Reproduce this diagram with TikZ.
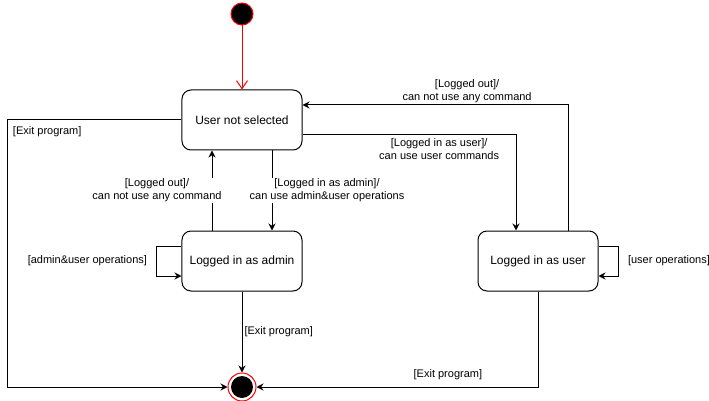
\documentclass[tikz,border=0pt]{standalone}
\usepackage{fontspec}
\setmainfont{Liberation Sans}
\usetikzlibrary{positioning, arrows.meta}

\begin{document}
\begin{tikzpicture}[->,>={Stealth[length=7pt,width=7pt]},line width=1pt,
    statebox/.style={draw,rounded corners=9pt,minimum width=120pt,minimum height=60pt,inner sep=0pt,font=\fontsize{12}{14}\selectfont},
    startdot/.style={circle,draw=red,fill=black,minimum size=22pt,inner sep=0pt},
    enddot/.style={circle,draw=red,fill=white,minimum size=28pt,inner sep=0pt,
      path picture={\fill[black] (path picture bounding box.center) circle (11pt);}},
    lbl/.style={font=\fontsize{11}{13}\selectfont,fill=white,inner sep=1pt,align=center}]
  \useasboundingbox (-242pt,-281pt) rectangle (467pt,120pt);

  \node[statebox] (uns) at (0,0) {User not selected};
  \node[statebox] (admin) [below=80pt of uns] {Logged in as admin};
  \node[statebox] (user) [right=175pt of admin] {Logged in as user};
  \node[startdot] (start) [above=64pt of uns] {};
  \node[enddot] (end) [below=81pt of admin] {};

  \draw[red,-{Straight Barb[length=8pt,width=11pt]}] (start) -- (uns);

  \draw (uns.west) -- ++(-174pt,0) node[lbl,anchor=north west,xshift=4pt,yshift=-5pt] (lexit) {[Exit program]} |- (end.west);
  \draw ([xshift=-30pt]admin.north) -- node[lbl,xshift=-55pt] (loutadmin) {[Logged out]/\\can not use any command} ([xshift=-30pt]uns.south);
  \draw ([xshift=30pt]uns.south) -- node[lbl,xshift=55pt] (linadmin) {[Logged in as admin]/\\can use admin\&user operations} ([xshift=30pt]admin.north);
  \draw ([yshift=15pt]admin.west) -- ++(-25pt,0) |- node[lbl,pos=0.25,left=8pt] (lopadmin) {[admin\&user operations]} ([yshift=-15pt]admin.west);
  \draw (admin.south) -- node[lbl,right=1pt] (lexitadmin) {[Exit program]} (end.north);

  \draw ([yshift=-15pt]uns.east) -| node[lbl,pos=0.32,below=2pt] (linuser) {[Logged in as user]/\\can use user commands} ([xshift=-22pt]user.north);
  \draw ([xshift=30pt]user.north) |- node[lbl,pos=0.69,above=1pt] (loutuser) {[Logged out]/\\can not use any command} ([yshift=15pt]uns.east);
  \draw ([yshift=15pt]user.east) -- ++(20pt,0) |- node[lbl,pos=0.25,right=8pt] (lopuser) {[user operations]} ([yshift=-15pt]user.east);
  \draw (user.south) |- node[lbl,pos=0.66,above=6pt] (lexituser) {[Exit program]} (end.east);
\end{tikzpicture}
\end{document}
